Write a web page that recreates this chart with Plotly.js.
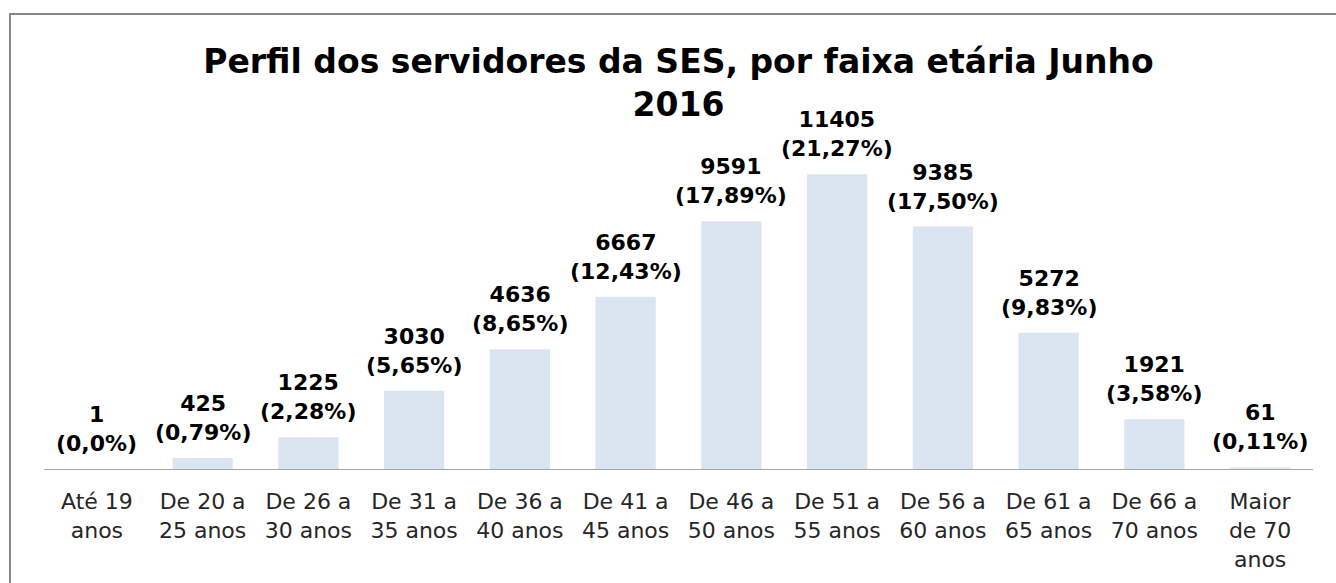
<!DOCTYPE html>
<html>
<head>
<meta charset="utf-8">
<script src="https://cdn.plot.ly/plotly-3.0.1.min.js"></script>
<style>
  html, body { margin: 0; padding: 0; background: #fff; overflow: hidden; }
  #frame { position: absolute; left: 9px; top: 13px; width: 1400px; height: 700px; border: 2px solid #878787; box-sizing: border-box; pointer-events: none; z-index: 5; }
  #chart { position: absolute; left: 0; top: 0; width: 1336px; height: 583px; }
</style>
</head>
<body>
<div id="chart"></div>
<div id="frame"></div>
<script>
const categories = ["Até 19<br>anos", "De 20 a<br>25 anos", "De 26 a<br>30 anos", "De 31 a<br>35 anos", "De 36 a<br>40 anos", "De 41 a<br>45 anos", "De 46 a<br>50 anos", "De 51 a<br>55 anos", "De 56 a<br>60 anos", "De 61 a<br>65 anos", "De 66 a<br>70 anos", "Maior<br>de 70<br>anos"];
const servidores = [1, 425, 1225, 3030, 4636, 6667, 9591, 11405, 9385, 5272, 1921, 61];
const percentuais = ["0,0%", "0,79%", "2,28%", "5,65%", "8,65%", "12,43%", "17,89%", "21,27%", "17,50%", "9,83%", "3,58%", "0,11%"];

const trace = {
  type: "bar",
  x: categories,
  y: servidores,
  marker: { color: "#dbe5f1" },
  hoverinfo: "none"
};

const annotations = categories.map((c, i) => ({
  x: c, y: servidores[i], xref: "x", yref: "y",
  text: "<b>" + servidores[i] + "<br>(" + percentuais[i] + ")</b>",
  showarrow: false, yanchor: "bottom", yshift: 11,
  font: { family: "DejaVu Sans", size: 22, color: "#000" }
}));

const layout = {
  width: 1336, height: 583,
  margin: { l: 44, r: 23, t: 159, b: 114 },
  paper_bgcolor: "#fff", plot_bgcolor: "#fff",
  bargap: 0.43,
  showlegend: false,
  title: {
    text: "<b>Perfil dos servidores da SES, por faixa etária Junho<br>2016</b>",
    font: { family: "DejaVu Sans", size: 33, color: "#000" },
    x: 0.5, xref: "paper", y: 0.875, yref: "container", yanchor: "top"
  },
  xaxis: {
    showline: true, linecolor: "#a6a6a6", linewidth: 1,
    ticks: "", showgrid: false, zeroline: false,
    tickfont: { family: "DejaVu Sans", size: 22, color: "#262626" },
    ticklabelstandoff: 13
  },
  yaxis: {
    range: [0, 12000], visible: false, showgrid: false, zeroline: false
  },
  annotations: annotations
};

Plotly.newPlot("chart", [trace], layout, { staticPlot: true });
</script>
</body>
</html>
